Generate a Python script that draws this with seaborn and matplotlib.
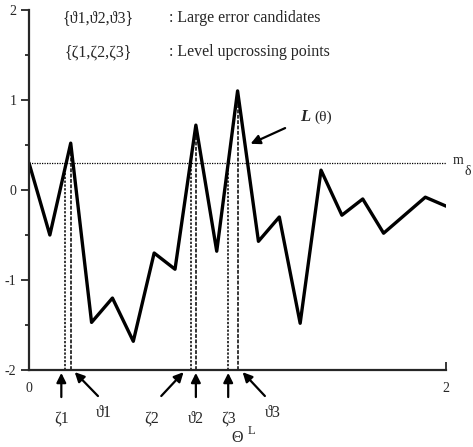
import matplotlib
matplotlib.use("Agg")
import matplotlib.pyplot as plt
import pandas as pd
import seaborn as sns

# curve L(theta)
theta = [0.0, 0.1, 0.2, 0.3, 0.4, 0.5, 0.6, 0.7, 0.8, 0.9, 1.0,
         1.1, 1.2, 1.3, 1.4, 1.5, 1.6, 1.7, 1.9, 2.0]
loss = [0.3, -0.5, 0.52, -1.47, -1.2, -1.68, -0.7, -0.88, 0.72, -0.68, 1.1,
        -0.57, -0.3, -1.48, 0.22, -0.28, -0.1, -0.48, -0.08, -0.18]
m_delta = 0.3

# large error candidates and level upcrossing points
theta_peaks = [0.2, 0.8, 1.0]
peak_values = [0.52, 0.72, 1.1]
zeta_points = [0.175, 0.775, 0.955]

y_ticks = [2, 1, 0, -1, -2]
y_tick_labels = ["2", "1", "0", "-1", "-2"]

sns.set_style("ticks")
plt.rcParams['font.family'] = ['Liberation Serif', 'DejaVu Serif']

fig = plt.figure(figsize=(4.73, 4.47), dpi=100)
ax = fig.add_axes([0.0613, 0.172, 0.882, 0.806])

df = pd.DataFrame({"theta": theta, "L": loss})
sns.lineplot(data=df, x="theta", y="L", ax=ax, color="black", linewidth=2.4)

# level line
ax.plot([0, 2], [m_delta, m_delta], color="black", linestyle=(0, (1, 1)), linewidth=0.9)

# vertical guide lines
for z in zeta_points:
    ax.plot([z, z], [-2, m_delta], color="black", linestyle=(0, (1.5, 1)), linewidth=1.1)
for t, v in zip(theta_peaks, peak_values):
    ax.plot([t, t], [-2, v], color="black", linestyle=(0, (2.5, 1)), linewidth=1.1)

ax.set_xlim(0, 2)
ax.set_ylim(-2, 2)
ax.set_xticks([2])
ax.set_xticklabels([])
ax.tick_params(axis="x", direction="in", length=6, width=1.3)
ax.set_yticks(y_ticks)
ax.set_yticklabels(y_tick_labels, fontsize=10)
ax.set_yticks([1.5, 0.5, -0.5, -1.5], minor=True)
ax.tick_params(axis="y", which="major", length=6, width=1.3, pad=3)
ax.tick_params(axis="y", which="minor", length=3, width=1.3)
for s in ["top", "right"]:
    ax.spines[s].set_visible(False)
for s in ["left", "bottom"]:
    ax.spines[s].set_linewidth(1.6)
ax.set_xlabel("")
ax.set_ylabel("")

ax.text(0, -2.2, "0", ha="center", va="center", fontsize=10)
ax.text(2, -2.2, "2", ha="center", va="center", fontsize=10)

# legend-like text
ax.text(0.16, 1.91, "{\u03d11,\u03d12,\u03d13}", fontsize=11.5, va="center")
ax.text(0.67, 1.91, ": Large error candidates", fontsize=11.5, va="center")
ax.text(0.17, 1.53, "{\u03b61,\u03b62,\u03b63}", fontsize=11.5, va="center")
ax.text(0.67, 1.53, ": Level upcrossing points", fontsize=11.5, va="center")

# level label
ax.text(2.03, 0.33, "m", fontsize=10, va="center", ha="left")
ax.text(2.09, 0.2, "\u03b4", fontsize=10, va="center", ha="left")

# L(theta) label and arrow
ax.text(1.3, 0.81, "L", fontsize=12, fontweight="bold", style="italic", va="center")
ax.text(1.37, 0.81, "(\u03b8)", fontsize=11, va="center")
arrow = dict(arrowstyle="-|>", color="black", lw=1.6, mutation_scale=14)
ax.annotate("", xy=(1.05, 0.5), xytext=(1.24, 0.7), arrowprops=arrow)

# arrows below the axis
arrow_specs = [
    ((0.155, -2.0), (0.155, -2.33), "\u03b61", (0.155, -2.54)),
    ((0.21, -2.0), (0.34, -2.31), "\u03d11", (0.36, -2.48)),
    ((0.75, -2.0), (0.625, -2.31), "\u03b62", (0.59, -2.54)),
    ((0.8, -2.0), (0.8, -2.33), "\u03d12", (0.8, -2.54)),
    ((0.955, -2.0), (0.955, -2.33), "\u03b63", (0.955, -2.54)),
    ((1.015, -2.0), (1.14, -2.31), "\u03d13", (1.17, -2.48)),
]
for tip, tail, label, pos in arrow_specs:
    ax.annotate("", xy=tip, xytext=tail, arrowprops=arrow, annotation_clip=False)
    ax.text(pos[0], pos[1], label, fontsize=11.5, ha="center", va="center")

ax.text(1.0, -2.75, "\u0398", fontsize=11.5, ha="center", va="center")
ax.text(1.065, -2.68, "L", fontsize=9, ha="center", va="center")

fig.savefig("out.png", dpi=100)
